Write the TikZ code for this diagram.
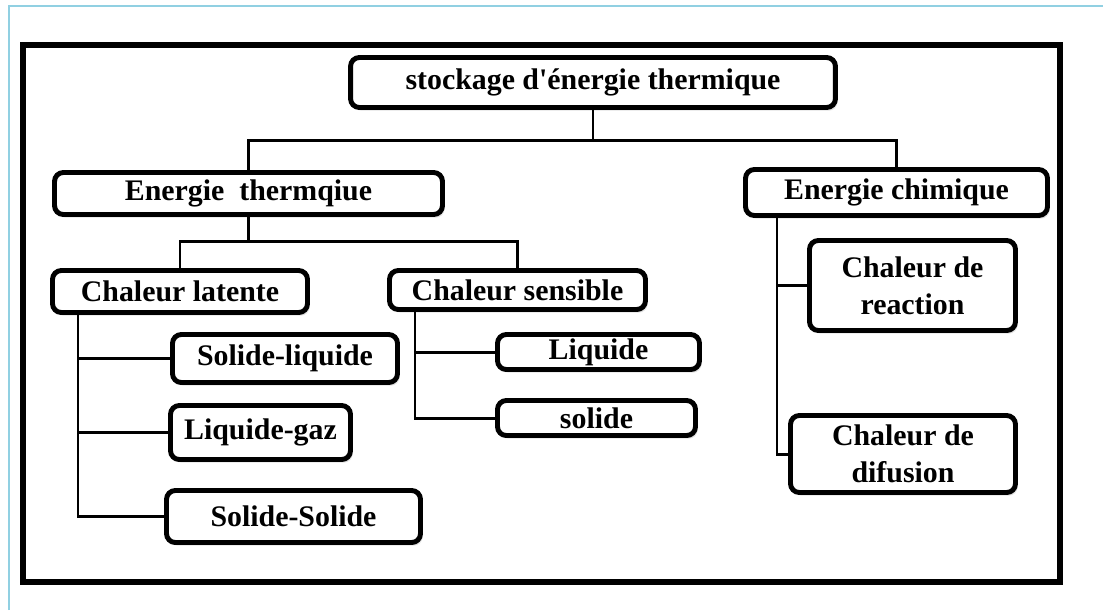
\documentclass[tikz,border=0pt]{standalone}
\usepackage{fontspec}
\setmainfont{Liberation Serif}
\usetikzlibrary{positioning,shadows}
\definecolor{FrameBlue}{RGB}{145,208,226}
\definecolor{ShadowGrey}{RGB}{120,120,120}
\tikzset{
  box/.style={draw=black,fill=white,line width=2.8pt,rounded corners=5pt,
    inner sep=0pt,align=center,font=\fontsize{17}{21}\selectfont\bfseries,
    drop shadow={shadow xshift=1.2pt,shadow yshift=-1.8pt,opacity=0.22,fill=ShadowGrey}},
  link/.style={draw=black,line width=1.7pt},
  frame/.style={draw=black,line width=3pt}
}

\begin{document}
\begin{tikzpicture}[x=0.02cm,y=-0.02cm]
  \useasboundingbox (0,0) rectangle (1103,610);
  \draw[FrameBlue,line width=0.8pt] (9,610) -- (9,6) -- (1103,6);
  \draw[frame] (23,45) rectangle (1060,582);

  \node[box,minimum width=9.7cm,minimum height=1.0cm] (top) at (593,82.5) {stockage d\textquotesingle énergie thermique};
  \node[box,minimum width=7.76cm,minimum height=0.84cm] (ether) at (248.5,193.5) {Energie\ \ thermqiue};
  \node[box,minimum width=6.04cm,minimum height=0.92cm] (chim) at (896.5,192.5) {Energie chimique};
  \node[box,minimum width=5.1cm,minimum height=0.84cm] (latente) at (180,291.5) {Chaleur latente};
  \node[box,minimum width=5.12cm,minimum height=0.78cm] (sensible) at (517.5,290) {Chaleur sensible};
  \node[box,minimum width=4.5cm,minimum height=0.96cm] (solliq) at (285,358.5) {Solide-liquide};
  \node[box,minimum width=3.6cm,minimum height=1.08cm] (liqgaz) at (260.5,432.5) {Liquide-gaz};
  \node[box,minimum width=5.08cm,minimum height=1.04cm] (solsol) at (293.5,516.5) {Solide-Solide};
  \node[box,minimum width=4.04cm,minimum height=0.7cm] (liq) at (598.5,352) {Liquide};
  \node[box,minimum width=3.96cm,minimum height=0.7cm] (sol) at (596.5,418) {solide};
  \node[box,minimum width=4.12cm,minimum height=1.8cm] (reac) at (912.5,285.5) {Chaleur de\\reaction};
  \node[box,minimum width=4.5cm,minimum height=1.54cm] (difu) at (903,454) {Chaleur de\\difusion};

  \coordinate (jtop) at (593,140);
  \coordinate (jther) at (248.5,241);
  \coordinate (tlat) at (78,313);
  \coordinate (tsen) at (415,310);
  \coordinate (tchim) at (777,216);

  \draw[link] (top) -- (jtop);
  \draw[link] (ether.north) |- (jtop) -| (chim.north);
  \draw[link] (ether) -- (jther);
  \draw[link] (latente.north) |- (jther) -| (sensible.north);
  \draw[link] (tlat) |- (solliq.west);
  \draw[link] (tlat) |- (liqgaz.west);
  \draw[link] (tlat) |- (solsol.west);
  \draw[link] (tsen) |- (liq.west);
  \draw[link] (tsen) |- (sol.west);
  \draw[link] (tchim) |- (reac.west);
  \draw[link] (tchim) |- (difu.west);
\end{tikzpicture}
\end{document}
